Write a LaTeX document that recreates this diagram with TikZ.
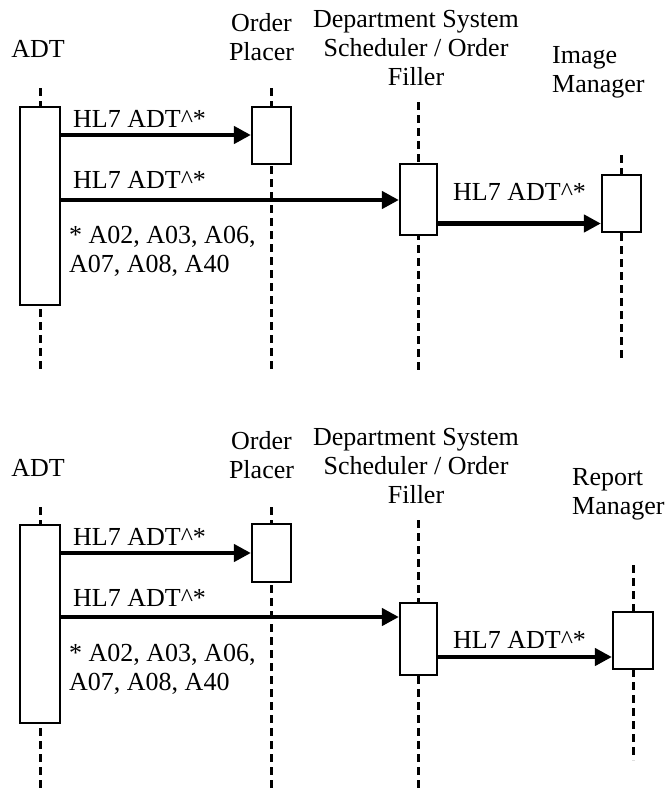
\documentclass[tikz,border=0pt]{standalone}
\usepackage{fontspec}
\setmainfont{Liberation Serif}
\usetikzlibrary{arrows.meta}
\tikzset{
  txt/.style={font=\fontsize{26}{29}\selectfont, inner sep=0pt},
  life/.style={line width=3pt, dash pattern=on 8pt off 5pt},
  actbox/.style={draw, line width=2.2pt, fill=white, inner sep=0pt, minimum width=39pt, minimum height=57pt},
  msg/.style={line width=4.5pt, -{Triangle[length=17pt,width=17pt]}}
}
\begin{document}
\begin{tikzpicture}[x=1pt,y=-1pt]
\useasboundingbox (0,0) rectangle (667,792);
% ===== top diagram =====
\node[txt, anchor=base] (adtA) at (38,58) {ADT};
\node[txt, align=center, anchor=north] (opA) at (261.5,13) {Order\\Placer};
\node[txt, align=center, anchor=north] (dsA) at (416,10) {Department System\\Scheduler / Order\\Filler};
\node[txt, align=left, anchor=north west] (imA) at (552,46) {Image\\Manager};
% lifeline ends
\coordinate (a1t) at (40,88);   \coordinate (a1b) at (40,372);
\coordinate (o1t) at (271.5,88); \coordinate (o1b) at (271.5,372);
\coordinate (d1t) at (418.5,102); \coordinate (d1b) at (418.5,372);
\coordinate (i1t) at (621.5,155); \coordinate (i1b) at (621.5,360);
\draw[life] (a1t) -- (a1b);
\draw[life] (o1t) -- (o1b);
\draw[life] (d1t) -- (d1b);
\draw[life] (i1t) -- (i1b);
% activation boxes
\node[actbox, minimum width=40pt, minimum height=198pt] (adt1) at (40,206) {};
\node[actbox] (op1) at (271.5,135.5) {};
\node[actbox, minimum width=37pt, minimum height=71pt] (ds1) at (418.5,199.5) {};
\node[actbox] (im1) at (621.5,203.5) {};
% messages
\coordinate (m1) at (0,135);
\coordinate (m2) at (0,200);
\coordinate (m3) at (0,223.5);
\draw[msg] (adt1.east |- m1) -- (op1.west |- m1);
\draw[msg] (adt1.east |- m2) -- (ds1.west |- m2);
\draw[msg] (ds1.east |- m3) -- (im1.west |- m3);
\node[txt, anchor=base west] (l1) at (73,127) {HL7 ADT\textasciicircum*};
\node[txt, anchor=base west] (l2) at (73,188) {HL7 ADT\textasciicircum*};
\node[txt, anchor=base west] (l3) at (453,200) {HL7 ADT\textasciicircum*};
\node[txt, align=left, anchor=north west] (n1) at (69,226) {* A02, A03, A06,\\A07, A08, A40};
% ===== bottom diagram =====
\node[txt, anchor=base] (adtB) at (38,476) {ADT};
\node[txt, align=center, anchor=north] (opB) at (261.5,431) {Order\\Placer};
\node[txt, align=center, anchor=north] (dsB) at (416,428) {Department System\\Scheduler / Order\\Filler};
\node[txt, align=left, anchor=north west] (rmB) at (572,468) {Report\\Manager};
\coordinate (a2t) at (40,507);   \coordinate (a2b) at (40,792);
\coordinate (o2t) at (271.5,507); \coordinate (o2b) at (271.5,792);
\coordinate (d2t) at (418.5,520); \coordinate (d2b) at (418.5,792);
\coordinate (r2t) at (633,565); \coordinate (r2b) at (633,760);
\draw[life] (a2t) -- (a2b);
\draw[life] (o2t) -- (o2b);
\draw[life] (d2t) -- (d2b);
\draw[life] (r2t) -- (r2b);
\node[actbox, minimum width=40pt, minimum height=198pt] (adt2) at (40,624) {};
\node[actbox, minimum height=58pt] (op2) at (271.5,553) {};
\node[actbox, minimum width=37pt, minimum height=72pt] (ds2) at (418.5,639) {};
\node[actbox, minimum width=40pt] (rm2) at (633,640.5) {};
\coordinate (m4) at (0,553);
\coordinate (m5) at (0,617);
\coordinate (m6) at (0,657);
\draw[msg] (adt2.east |- m4) -- (op2.west |- m4);
\draw[msg] (adt2.east |- m5) -- (ds2.west |- m5);
\draw[msg] (ds2.east |- m6) -- (rm2.west |- m6);
\node[txt, anchor=base west] (l4) at (73,545) {HL7 ADT\textasciicircum*};
\node[txt, anchor=base west] (l5) at (73,606) {HL7 ADT\textasciicircum*};
\node[txt, anchor=base west] (l6) at (453,648) {HL7 ADT\textasciicircum*};
\node[txt, align=left, anchor=north west] (n2) at (69,644) {* A02, A03, A06,\\A07, A08, A40};
\end{tikzpicture}
\end{document}
